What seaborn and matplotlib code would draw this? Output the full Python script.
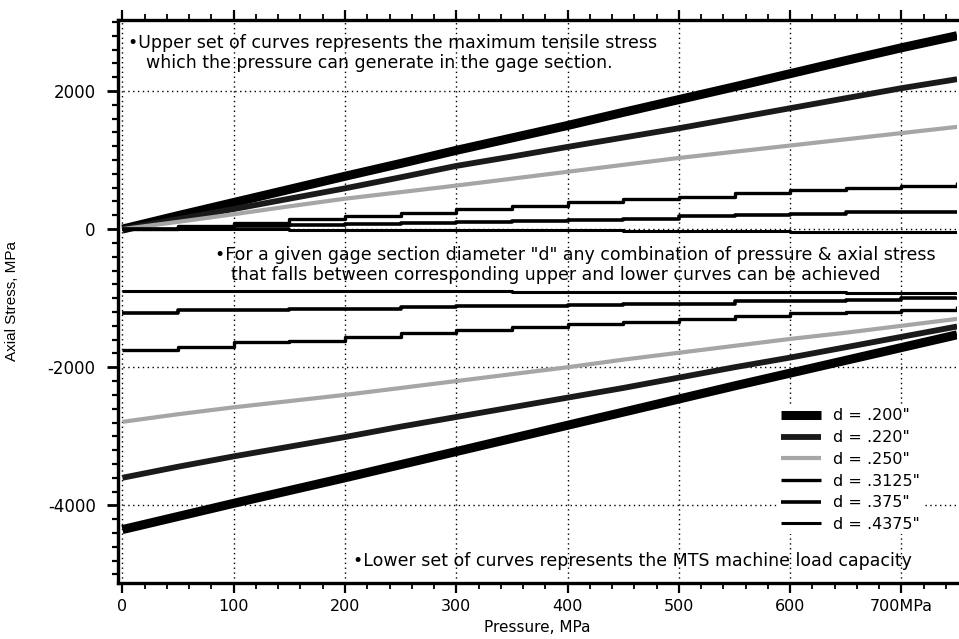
import numpy as np
import pandas as pd
import matplotlib
matplotlib.use("Agg")
import matplotlib.pyplot as plt
import seaborn as sns
from matplotlib.ticker import MultipleLocator, FixedLocator

# ---------------- data ----------------
pressure = [0, 50, 100, 150, 200, 250, 300, 350, 400, 450, 500, 550, 600, 650, 700, 750]

diameters = ['d = .200"', 'd = .220"', 'd = .250"', 'd = .3125"', 'd = .375"', 'd = .4375"']

upper_200 = [0, 195, 385, 575, 765, 950, 1140, 1320, 1500, 1690, 1875, 2060, 2250, 2440, 2625, 2800]
upper_220 = [0, 145, 290, 440, 590, 750, 915, 1050, 1190, 1325, 1460, 1605, 1750, 1895, 2040, 2170]
upper_250 = [0, 105, 215, 330, 440, 535, 630, 730, 830, 930, 1030, 1120, 1210, 1300, 1390, 1480]
upper_3125 = [0, 40, 90, 140, 190, 240, 290, 340, 390, 430, 470, 520, 565, 600, 625, 680]
upper_375 = [0, 15, 40, 55, 70, 85, 100, 115, 130, 150, 185, 200, 215, 245, 245, 250]
upper_4375 = [0, -5, -5, -10, -10, -15, -15, -20, -20, -25, -30, -30, -35, -35, -40, -40]

lower_200 = [-4350, -4160, -3970, -3785, -3600, -3410, -3220, -3030, -2840, -2650, -2460, -2270, -2085, -1900, -1715, -1530]
lower_220 = [-3600, -3440, -3290, -3150, -3010, -2860, -2720, -2580, -2440, -2300, -2150, -2000, -1860, -1710, -1560, -1410]
lower_250 = [-2790, -2680, -2580, -2490, -2400, -2300, -2200, -2100, -2000, -1890, -1790, -1690, -1590, -1500, -1400, -1300]
lower_3125 = [-1750, -1700, -1640, -1620, -1560, -1510, -1460, -1420, -1380, -1340, -1300, -1260, -1215, -1200, -1170, -1115]
lower_375 = [-1220, -1175, -1170, -1150, -1150, -1130, -1120, -1110, -1100, -1090, -1080, -1045, -1040, -1020, -1000, -990]
lower_4375 = [-890, -890, -895, -895, -900, -900, -900, -905, -905, -910, -910, -915, -915, -920, -920, -920]

x_ticks = [0, 100, 200, 300, 400, 500, 600, 700]
x_tick_labels = ["0", "100", "200", "300", "400", "500", "600", "700MPa"]
y_ticks = [2000, 0, -2000, -4000]
y_tick_labels = ["2000", "0", "-2000", "-4000"]

note_upper = ["\u2022Upper set of curves represents the maximum tensile stress",
              "which the pressure can generate in the gage section."]
note_middle = ["\u2022For a given gage section diameter \"d\" any combination of pressure & axial stress",
               "that falls between corresponding upper and lower curves can be achieved"]
note_lower = ["\u2022Lower set of curves represents the MTS machine load capacity"]

# ---------------- styling ----------------
sns.set_theme(style="white")
plt.rcParams["font.family"] = ["DejaVu Sans"]
plt.rcParams.update({"text.color": "black", "axes.labelcolor": "black",
                     "xtick.color": "black", "ytick.color": "black",
                     "xtick.labelcolor": "black", "ytick.labelcolor": "black"})
NARROW = ["Liberation Sans Narrow", "Liberation Sans", "DejaVu Sans"]

styles = [
    dict(color="#000000", lw=6.5, ds="default"),
    dict(color="#1a1a1a", lw=4.2, ds="default"),
    dict(color="#a6a6a6", lw=3.0, ds="default"),
    dict(color="#000000", lw=2.4, ds="steps-post"),
    dict(color="#000000", lw=2.6, ds="steps-post"),
    dict(color="#000000", lw=2.2, ds="steps-post"),
]

uppers = [upper_200, upper_220, upper_250, upper_3125, upper_375, upper_4375]
lowers = [lower_200, lower_220, lower_250, lower_3125, lower_375, lower_4375]

rows = []
for name, up, lo in zip(diameters, uppers, lowers):
    for p, u, l in zip(pressure, up, lo):
        rows.append(dict(d=name, part="upper", pressure=p, stress=u))
        rows.append(dict(d=name, part="lower", pressure=p, stress=l))
df = pd.DataFrame(rows)

fig = plt.figure(figsize=(9.59, 6.39), dpi=100)
ax = fig.add_axes([0.123, 0.088, 0.875, 0.881])

for name, st in zip(diameters, styles):
    for part in ["upper", "lower"]:
        sub = df[(df.d == name) & (df.part == part)]
        sns.lineplot(data=sub, x="pressure", y="stress", ax=ax, color=st["color"],
                     lw=st["lw"], drawstyle=st["ds"],
                     label=name if part == "upper" else None, legend=False,
                     solid_capstyle="butt", zorder=3)

ax.set_xlim(-4, 750)
ax.set_ylim(-5120, 3030)

ax.xaxis.set_major_locator(FixedLocator(x_ticks))
ax.set_xticklabels(x_tick_labels)
ax.xaxis.set_minor_locator(MultipleLocator(20))
ax.yaxis.set_major_locator(FixedLocator(y_ticks))
ax.set_yticklabels(y_tick_labels)
ax.yaxis.set_minor_locator(MultipleLocator(200))

ax.grid(True, which="major", color="black", linestyle=(0, (1, 2.5)), linewidth=1.0, zorder=1)

for side in ["left", "top", "bottom"]:
    ax.spines[side].set_visible(True)
    ax.spines[side].set_color("black")
    ax.spines[side].set_linewidth(2.4)
ax.spines["right"].set_visible(False)

ax.tick_params(axis="x", which="major", direction="out", length=7, width=1.6, color="black",
               top=True, bottom=True, labelsize=11.5, pad=5, labelcolor="black")
ax.tick_params(axis="x", which="minor", direction="out", length=4, width=1.3, color="black",
               top=True, bottom=True)
ax.tick_params(axis="y", which="major", direction="out", length=8, width=2, color="black",
               left=True, labelsize=12, pad=8, labelcolor="black")
ax.tick_params(axis="y", which="minor", direction="out", length=4, width=1.6, color="black",
               left=True)

ax.set_xlabel("Pressure, MPa", fontsize=11, labelpad=4, color="black")
ax.set_ylabel("Axial Stress, MPa", fontsize=11, family=NARROW, color="black")
ax.yaxis.set_label_coords(-0.118, 0.5)

txt_kw = dict(fontsize=12.5, color="black", zorder=5, va="center", ha="left")
ax.text(5, 2700, note_upper[0], **txt_kw)
ax.text(21, 2410, note_upper[1], **txt_kw)
ax.text(83, -370, note_middle[0], **txt_kw)
ax.text(98, -660, note_middle[1], **txt_kw)
ax.text(207, -4800, note_lower[0], **txt_kw)

leg = ax.legend(loc="upper left", bbox_to_anchor=(0.787, 0.314), frameon=True,
                fontsize=11.5, handlelength=2.5, handletextpad=0.75, labelspacing=0.42,
                borderaxespad=0, borderpad=0.15, fancybox=False, labelcolor="black")
leg.get_frame().set_facecolor("white")
leg.get_frame().set_edgecolor("none")
leg.get_frame().set_alpha(1.0)
leg.set_zorder(6)

fig.savefig("out.png", dpi=100)
